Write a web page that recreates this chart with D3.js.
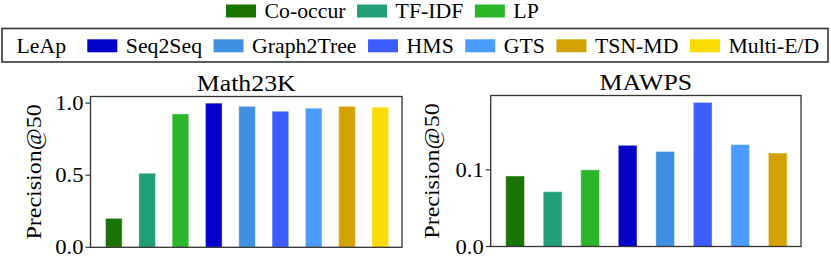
<!DOCTYPE html>
<html>
<head>
	<meta charset="UTF-8">
	<script src="https://d3js.org/d3.v7.min.js"></script>
</head>
<body style="margin:0">
	<svg id="container" width="831" height="258"></svg>
	<script>
		// baselines and LeAp variants
		const baselineNames = ['Co-occur', 'TF-IDF', 'LP'];
		const leapNames = ['Seq2Seq', 'Graph2Tree', 'HMS', 'GTS', 'TSN-MD', 'Multi-E/D'];
		const colors = {
			'Co-occur': '#1a7300',
			'TF-IDF': '#1f9e77',
			'LP': '#2bb52b',
			'Seq2Seq': '#0000c8',
			'Graph2Tree': '#3f90e2',
			'HMS': '#3c5eff',
			'GTS': '#4a9cff',
			'TSN-MD': '#d4a200',
			'Multi-E/D': '#fcdc00',
		};

		// Math23K (9 methods)
		const math23kMethods = ['Co-occur', 'TF-IDF', 'LP', 'Seq2Seq', 'Graph2Tree', 'HMS', 'GTS', 'TSN-MD', 'Multi-E/D'];
		const math23kValues = [0.201, 0.514, 0.925, 1.0, 0.978, 0.944, 0.965, 0.978, 0.972];
		const math23kTicks = [0.0, 0.5, 1.0];

		// MAWPS (8 methods)
		const mawpsMethods = ['Co-occur', 'TF-IDF', 'LP', 'Seq2Seq', 'Graph2Tree', 'HMS', 'GTS', 'TSN-MD'];
		const mawpsValues = [0.092, 0.0715, 0.1, 0.132, 0.124, 0.188, 0.133, 0.122];
		const mawpsTicks = [0.0, 0.1];

		const svg = d3.select('#container');

		// glyphs in the figure are a bit wider than Liberation Serif, so stretch along the baseline
		function addText(g, str, x, y, size, anchor, rotate, stretch) {
			return g.append('text')
				.attr('font-size', size)
				.style('font-family', "'Liberation Serif'")
				.attr('text-anchor', anchor || 'start')
				.attr('transform', `translate(${x},${y}) rotate(${rotate || 0}) scale(${stretch || 1.1},1)`)
				.text(str);
		}

		function drawPanel(opt) {
			const g = svg.append('g');
			const x = d3.scaleLinear().domain(opt.xDomain).range([opt.left, opt.right]);
			const y = d3.scaleLinear().domain([0, opt.yMax]).range([opt.bottom, opt.top]);

			g.selectAll('rect.bar')
				.data(opt.values)
				.enter()
				.append('rect')
				.attr('class', 'bar')
				.attr('x', (d, i) => x(i - 0.25))
				.attr('width', x(0.5) - x(0))
				.attr('y', d => y(d))
				.attr('height', d => y(0) - y(d))
				.attr('fill', (d, i) => colors[opt.methods[i]])
				.attr('stroke', 'rgba(255,255,255,0.45)')
				.attr('stroke-width', 1);

			// frame
			g.append('rect')
				.attr('x', opt.left)
				.attr('y', opt.top)
				.attr('width', opt.right - opt.left)
				.attr('height', opt.bottom - opt.top)
				.attr('fill', 'none')
				.attr('stroke', '#333')
				.attr('stroke-width', 1.3);

			// y ticks
			opt.ticks.forEach(t => {
				g.append('line')
					.attr('x1', opt.left - 5).attr('x2', opt.left)
					.attr('y1', y(t)).attr('y2', y(t))
					.attr('stroke', '#333').attr('stroke-width', 1.2);
				addText(g, t.toFixed(1), opt.left - 7, y(t) + 7, 20, 'end', 0, 1.13);
			});

			addText(g, opt.title, (opt.left + opt.right) / 2, opt.top - 6, 23.5, 'middle', 0, 1.1);
			addText(g, 'Precision@50', opt.labelX, (opt.top + opt.bottom) / 2, 20, 'middle', -90, 1.2);
		}

		drawPanel({
			methods: math23kMethods, values: math23kValues, ticks: math23kTicks,
			xDomain: [-0.7, 8.65], yMax: 1.046,
			left: 90.5, right: 402, top: 96.5, bottom: 247.3,
			labelX: 41, title: 'Math23K',
		});
		drawPanel({
			methods: mawpsMethods, values: mawpsValues, ticks: mawpsTicks,
			xDomain: [-0.65, 7.62], yMax: 0.197,
			left: 490.7, right: 801, top: 95.5, bottom: 246.5,
			labelX: 439, title: 'MAWPS',
		});

		// legends
		const legendStretch = 1.09;
		function legendRow(names, startX, patchY, textY) {
			let cx = startX;
			names.forEach(name => {
				svg.append('rect')
					.attr('x', cx).attr('y', patchY)
					.attr('width', 30).attr('height', 13)
					.attr('fill', colors[name]);
				cx += 38.5;
				const t = addText(svg, name, cx, textY, 20, 'start', 0, legendStretch);
				cx += t.node().getComputedTextLength() * legendStretch + 11.5;
			});
		}

		legendRow(baselineNames, 226, 4.5, 17.5);

		svg.append('rect')
			.attr('x', 2).attr('y', 28.5)
			.attr('width', 826).attr('height', 33.5)
			.attr('fill', 'none')
			.attr('stroke', '#333')
			.attr('stroke-width', 1.6);
		addText(svg, 'LeAp', 16.5, 52.5, 20, 'start', 0, legendStretch);
		legendRow(leapNames, 87.3, 39.3, 52.5);
	</script>
</body>
</html>
